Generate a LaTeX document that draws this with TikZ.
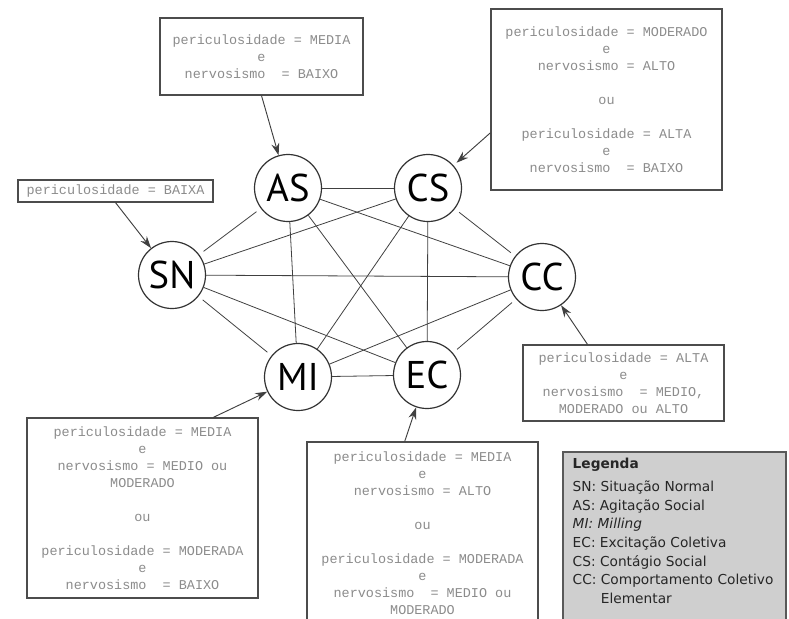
\documentclass[tikz,border=0pt]{standalone}
\usepackage{fontspec}
\setmonofont{Liberation Mono}
\newfontfamily\statefont{PT Sans}
\newfontfamily\legfont{DejaVu Sans}
\usepackage{tikz}
\usetikzlibrary{arrows.meta,positioning}

\tikzset{
    state/.style={circle, draw=black!80, line width=0.9pt, fill=white,
        minimum size=50.25pt, inner sep=0pt, font=\statefont\fontsize{29}{32}\selectfont},
    condbox/.style={rectangle, draw=black!70, line width=0.9pt, fill=white, align=center,
        inner sep=0pt, text=black!45, font=\ttfamily\fontsize{10.1}{12.75}\selectfont},
    edge/.style={black!75, line width=0.6pt},
    gap/.style={shorten <=4pt, shorten >=4pt},
    pointer/.style={-{Stealth[length=9pt,width=6pt]}, black!75, line width=0.7pt},
    legbox/.style={rectangle, draw=black!65, line width=0.8pt, fill=black!19,
        minimum width=167.25pt, minimum height=130.5pt, inner sep=0pt},
    legtext/.style={align=left, inner sep=0pt, text=black!85,
        font=\legfont\fontsize{10.3}{14}\selectfont}
}

\begin{document}
\begin{tikzpicture}[x=0.75pt, y=-0.75pt]
    \useasboundingbox (0,0) rectangle (789,618);

    % States
    \node[state] (SN) at (172,275) {SN};
    \node[state] (AS) at (288,188) {AS};
    \node[state] (CS) at (428,188) {CS};
    \node[state] (CC) at (542,277) {CC};
    \node[state] (MI) at (298,377) {MI};
    \node[state] (EC) at (427,375) {EC};

    % Transitions between all states
    \foreach \a/\b in {SN/CS, SN/CC, SN/EC, AS/CS, AS/MI, AS/EC, AS/CC, CS/MI, CS/EC, MI/EC, MI/CC} {
        \draw[edge] (\a) -- (\b);
    }
    \foreach \a/\b in {SN/AS, SN/MI, CS/CC, EC/CC} {
        \draw[edge, gap] (\a) -- (\b);
    }

    % Conditions
    \node[condbox, minimum width=152.25pt, minimum height=57.75pt] (condAS) at (261.5,56.5)
        {periculosidade = MEDIA\\ e\\ nervosismo\ \ = BAIXO};
    \node[condbox, minimum width=173.25pt, minimum height=135.75pt] (condCS) at (606.5,99.5)
        {periculosidade = MODERADO\\ e\\ nervosismo = ALTO\\[12.75pt] ou\\[12.75pt]
         periculosidade = ALTA\\ e\\ nervosismo\ \ = BAIXO};
    \node[condbox, minimum width=146.25pt, minimum height=16.5pt] (condSN) at (115.5,191)
        {periculosidade = BAIXA};
    \node[condbox, minimum width=150.75pt, minimum height=57pt] (condCC) at (623.5,383)
        {periculosidade = ALTA\\ e\\ nervosismo\ \ = MEDIO,\\ MODERADO ou ALTO};
    \node[condbox, minimum width=173.25pt, minimum height=135pt] (condMI) at (142.5,508)
        {periculosidade = MEDIA\\ e\\ nervosismo = MEDIO ou\\ MODERADO\\[12.75pt] ou\\[12.75pt]
         periculosidade = MODERADA\\ e\\ nervosismo\ \ = BAIXO};
    \node[condbox, minimum width=173.25pt, minimum height=136.5pt] (condEC) at (422.5,533)
        {periculosidade = MEDIA\\ e\\ nervosismo = ALTO\\[12.75pt] ou\\[12.75pt]
         periculosidade = MODERADA\\ e\\ nervosismo\ \ = MEDIO ou\\ MODERADO};

    \draw[pointer] (condAS.south) -- (AS);
    \draw[pointer, shorten >=3pt] (condCS.196) -- (CS);
    \draw[pointer] (condSN.south) -- (SN);
    \draw[pointer] (condCC.133) -- (CC);
    \draw[pointer] (condMI.52) -- (MI);
    \draw[pointer] (condEC.101) -- (EC);

    % Legend
    \node[legbox] (leg) at (674.5,539) {};
    \node[legtext, anchor=north west] (legtxt) at ([xshift=7.5pt, yshift=-5pt]leg.north west)
        {\textbf{Legenda}\\[3pt]
         SN: Situação Normal\\
         AS: Agitação Social\\
         \textit{MI: Milling}\\
         EC: Excitação Coletiva\\
         CS: Contágio Social\\
         CC: Comportamento Coletivo\\
         \phantom{CC: }Elementar};
\end{tikzpicture}
\end{document}
